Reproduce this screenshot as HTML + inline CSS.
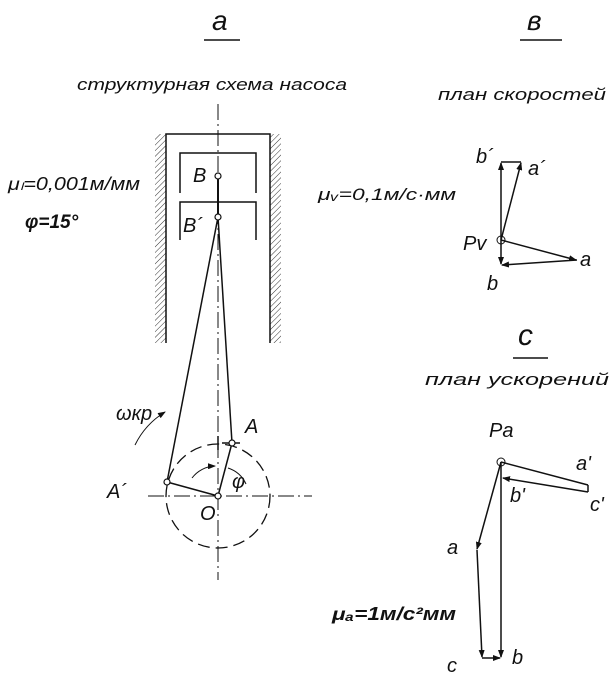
<!DOCTYPE html>
<html><head><meta charset="utf-8"><style>
html,body{margin:0;padding:0;background:#fff;}
svg text{font-family:"Liberation Sans",sans-serif;font-style:italic;fill:#111;}
</style></head><body>
<svg width="616" height="678" viewBox="0 0 616 678" xmlns="http://www.w3.org/2000/svg">
<defs>
<pattern id="h" width="4" height="4" patternUnits="userSpaceOnUse" patternTransform="rotate(45)">
<line x1="0" y1="0" x2="0" y2="4" stroke="#333" stroke-width="1"/></pattern>
<marker id="ar" markerWidth="8" markerHeight="6" refX="7" refY="3" orient="auto" markerUnits="userSpaceOnUse">
<path d="M0,0 L8,3 L0,6 z" fill="#111"/></marker>
</defs>
<g stroke="#111" fill="none" stroke-width="1.5">
<!-- titles underlines -->
<line x1="204" y1="40" x2="240" y2="40"/>
<line x1="520" y1="40" x2="562" y2="40"/>
<line x1="513" y1="358" x2="548" y2="358"/>
<!-- cylinder -->
<rect x="155" y="134" width="11" height="209" fill="url(#h)" stroke="none"/>
<rect x="270" y="134" width="11" height="209" fill="url(#h)" stroke="none"/>
<polyline points="166,343 166,134 270,134 270,343"/>
<polyline points="180,193 180,153 256,153 256,193"/>
<polyline points="180,240 180,202 256,202 256,240"/>
<!-- centerlines -->
<line x1="218" y1="104" x2="218" y2="580" stroke-width="1" stroke-dasharray="16,4,2,4"/>
<line x1="148" y1="496" x2="312" y2="496" stroke-width="1" stroke-dasharray="16,4,2,4"/>
<circle cx="218" cy="496" r="52" stroke-width="1.3" stroke-dasharray="12,6"/>
<!-- links -->
<line x1="218" y1="176" x2="218" y2="217" stroke-width="2"/>
<line x1="218" y1="217" x2="232" y2="443"/>
<line x1="218" y1="217" x2="167" y2="482"/>
<line x1="218" y1="496" x2="232" y2="443"/>
<line x1="218" y1="496" x2="167" y2="482"/>
<line x1="222" y1="443" x2="240" y2="443"/>
<line x1="218" y1="436" x2="218" y2="450"/>
<path d="M192,478 A30,30 0 0 1 215,466" stroke-width="1" marker-end="url(#ar)"/>
<path d="M228,468 A30,30 0 0 1 246,484" stroke-width="1"/>
<path d="M135,445 A80,80 0 0 1 165,412" stroke-width="1" marker-end="url(#ar)"/>
<g fill="#fff" stroke-width="1.2">
<circle cx="218" cy="176" r="3"/><circle cx="218" cy="217" r="3"/>
<circle cx="232" cy="443" r="3"/><circle cx="167" cy="482" r="3"/><circle cx="218" cy="496" r="3"/>
</g>
<!-- velocity plan -->
<circle cx="501" cy="240" r="4" stroke-width="1"/>
<line x1="501" y1="240" x2="501" y2="163" marker-end="url(#ar)"/>
<line x1="501" y1="240" x2="521" y2="163" marker-end="url(#ar)"/>
<line x1="501" y1="162" x2="521" y2="162"/>
<line x1="501" y1="240" x2="576" y2="260" marker-end="url(#ar)"/>
<line x1="501" y1="240" x2="501" y2="264" marker-end="url(#ar)"/>
<line x1="577" y1="260" x2="502" y2="265" marker-end="url(#ar)"/>
<!-- accel plan -->
<circle cx="501" cy="462" r="4" stroke-width="1"/>
<line x1="501" y1="462" x2="588" y2="485"/>
<line x1="588" y1="485" x2="588" y2="492"/>
<line x1="588" y1="492" x2="503" y2="478" marker-end="url(#ar)"/>
<line x1="501" y1="462" x2="477" y2="549" marker-end="url(#ar)"/>
<line x1="477" y1="550" x2="482" y2="657" marker-end="url(#ar)"/>
<line x1="501" y1="462" x2="501" y2="657" marker-end="url(#ar)"/>
<line x1="482" y1="658" x2="500" y2="658" marker-end="url(#ar)"/>
</g>
<g font-size="20">
<text x="212" y="30" font-size="28">а</text>
<text x="527" y="30" font-size="28">в</text>
<text x="518" y="345" font-size="30">с</text>
<text x="77" y="90" font-size="17" textLength="270" lengthAdjust="spacingAndGlyphs">структурная схема насоса</text>
<text x="438" y="100" font-size="17" textLength="168" lengthAdjust="spacingAndGlyphs">план скоростей</text>
<text x="425" y="385" font-size="17" textLength="184" lengthAdjust="spacingAndGlyphs">план ускорений</text>
<text x="8" y="190" font-size="18" textLength="132" lengthAdjust="spacingAndGlyphs">μₗ=0,001м/мм</text>
<text x="25" y="228" font-size="19" font-weight="bold">φ=15°</text>
<text x="318" y="200" font-size="17" textLength="138" lengthAdjust="spacingAndGlyphs">μᵥ=0,1м/с·мм</text>
<text x="332" y="620" font-size="18" font-weight="bold" textLength="124" lengthAdjust="spacingAndGlyphs">μₐ=1м/с²мм</text>
<text x="193" y="182">B</text>
<text x="183" y="232">B´</text>
<text x="245" y="433">A</text>
<text x="107" y="498">A´</text>
<text x="200" y="520">O</text>
<text x="232" y="488">φ</text>
<text x="116" y="420">ωкр</text>
<text x="476" y="163">b´</text>
<text x="528" y="175">a´</text>
<text x="463" y="250">Pv</text>
<text x="487" y="290">b</text>
<text x="580" y="266">a</text>
<text x="489" y="437">Pa</text>
<text x="576" y="470">a'</text>
<text x="510" y="502">b'</text>
<text x="590" y="511">c'</text>
<text x="447" y="554">a</text>
<text x="447" y="672">c</text>
<text x="512" y="664">b</text>
</g>
</svg>
</body></html>
